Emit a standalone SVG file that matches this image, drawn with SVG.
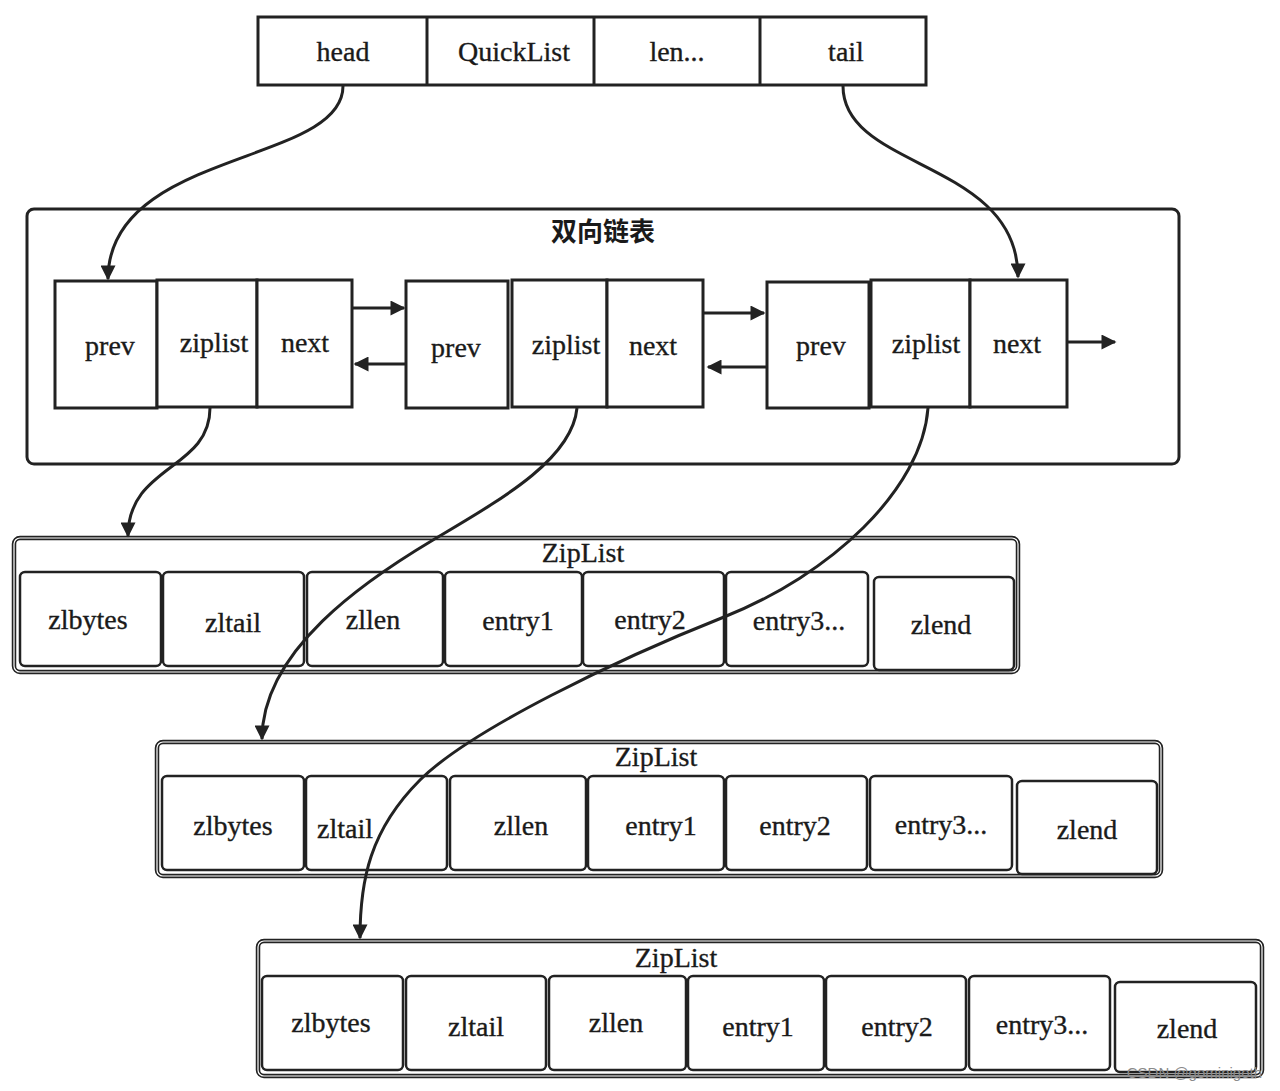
<svg xmlns="http://www.w3.org/2000/svg" width="1280" height="1091" viewBox="0 0 1280 1091">
<defs>
<style>
.t{font-family:"Liberation Serif","DejaVu Serif",serif;font-size:28px;fill:#1a1a1a;stroke:#1a1a1a;stroke-width:0.35;text-anchor:middle}
.box{fill:#fff;stroke:#222;stroke-width:3}
.cell{fill:#fff;stroke:#222;stroke-width:2.5}
.zo{fill:#fff;stroke:#222;stroke-width:4.5}
.zi{fill:none;stroke:#fff;stroke-width:1.2}
.ln{fill:none;stroke:#222;stroke-width:3}
.cap{font-family:"Noto Sans CJK SC","Noto Sans",sans-serif;font-size:26px;font-weight:bold;fill:#1a1a1a;text-anchor:middle}
.wm{font-family:"Liberation Sans",Arial,sans-serif;font-size:15px;fill:#8a8a8a;text-anchor:end}
</style>
<marker id="ah" viewBox="0 0 10 10" refX="9" refY="5" markerWidth="5.5" markerHeight="5" orient="auto" markerUnits="strokeWidth">
<path d="M0,0 L10,5 L0,10 z" fill="#222"/>
</marker>
</defs>
<rect width="1280" height="1091" fill="#fff"/>

<g id="quicklist">
<rect class="box" x="258" y="17" width="668" height="68"/>
<line class="ln" x1="427" y1="17" x2="427" y2="85"/>
<line class="ln" x1="594" y1="17" x2="594" y2="85"/>
<line class="ln" x1="760" y1="17" x2="760" y2="85"/>
<text class="t" x="343" y="61">head</text>
<text class="t" x="514" y="61">QuickList</text>
<text class="t" x="677" y="61">len...</text>
<text class="t" x="846" y="61">tail</text>
</g>

<g id="linkedlist">
<rect x="27" y="209" width="1152" height="255" rx="7" fill="#fff" stroke="#222" stroke-width="3"/>
<text class="cap" x="603" y="241">双向链表</text>
</g>

<g id="node1">
<rect class="box" x="55" y="281" width="102" height="127"/>
<rect class="box" x="157" y="280" width="100" height="127"/>
<rect class="box" x="257" y="280" width="95" height="127"/>
<text class="t" x="110" y="355">prev</text>
<text class="t" x="214" y="352">ziplist</text>
<text class="t" x="305" y="352">next</text>
</g>
<g id="node2">
<rect class="box" x="406" y="281" width="102" height="127"/>
<rect class="box" x="512" y="280" width="95" height="127"/>
<rect class="box" x="607" y="280" width="96" height="127"/>
<text class="t" x="456" y="357">prev</text>
<text class="t" x="566" y="354">ziplist</text>
<text class="t" x="653" y="355">next</text>
</g>
<g id="node3">
<rect class="box" x="767" y="282" width="102" height="126"/>
<rect class="box" x="871" y="280" width="99" height="127"/>
<rect class="box" x="970" y="280" width="97" height="127"/>
<text class="t" x="821" y="355">prev</text>
<text class="t" x="926" y="353">ziplist</text>
<text class="t" x="1017" y="353">next</text>
</g>

<g id="ziplist1">
<rect class="zo" x="14" y="538" width="1004" height="134" rx="6"/>
<rect class="zi" x="14" y="538" width="1004" height="134" rx="6"/>
<text class="t" x="583" y="562">ZipList</text>
<rect class="cell" x="20" y="572" width="141" height="94" rx="5"/>
<rect class="cell" x="163" y="572" width="141" height="94" rx="5"/>
<rect class="cell" x="307" y="572" width="136" height="94" rx="5"/>
<rect class="cell" x="445" y="572" width="137" height="94" rx="5"/>
<rect class="cell" x="583" y="572" width="141" height="94" rx="5"/>
<rect class="cell" x="726" y="572" width="142" height="94" rx="5"/>
<rect class="cell" x="874" y="577" width="140" height="93" rx="5"/>
<text class="t" x="88" y="629">zlbytes</text>
<text class="t" x="233" y="632">zltail</text>
<text class="t" x="373" y="629">zllen</text>
<text class="t" x="518" y="630">entry1</text>
<text class="t" x="650" y="629">entry2</text>
<text class="t" x="799" y="630">entry3...</text>
<text class="t" x="941" y="634">zlend</text>
</g>

<g id="ziplist2">
<rect class="zo" x="157" y="742" width="1004" height="134" rx="6"/>
<rect class="zi" x="157" y="742" width="1004" height="134" rx="6"/>
<text class="t" x="656" y="766">ZipList</text>
<rect class="cell" x="162" y="776" width="142" height="94" rx="5"/>
<rect class="cell" x="306" y="776" width="141" height="94" rx="5"/>
<rect class="cell" x="450" y="776" width="136" height="94" rx="5"/>
<rect class="cell" x="588" y="776" width="136" height="94" rx="5"/>
<rect class="cell" x="726" y="776" width="141" height="94" rx="5"/>
<rect class="cell" x="870" y="776" width="142" height="94" rx="5"/>
<rect class="cell" x="1017" y="781" width="140" height="93" rx="5"/>
<text class="t" x="233" y="835">zlbytes</text>
<text class="t" x="345" y="838">zltail</text>
<text class="t" x="521" y="835">zllen</text>
<text class="t" x="661" y="835">entry1</text>
<text class="t" x="795" y="835">entry2</text>
<text class="t" x="941" y="834">entry3...</text>
<text class="t" x="1087" y="839">zlend</text>
</g>

<g id="ziplist3">
<rect class="zo" x="258" y="941" width="1004" height="135" rx="6"/>
<rect class="zi" x="258" y="941" width="1004" height="135" rx="6"/>
<text class="t" x="676" y="967">ZipList</text>
<rect class="cell" x="262" y="976" width="141" height="94" rx="5"/>
<rect class="cell" x="406" y="976" width="140" height="94" rx="5"/>
<rect class="cell" x="549" y="976" width="137" height="94" rx="5"/>
<rect class="cell" x="688" y="976" width="136" height="94" rx="5"/>
<rect class="cell" x="826" y="976" width="140" height="94" rx="5"/>
<rect class="cell" x="969" y="976" width="141" height="94" rx="5"/>
<rect class="cell" x="1115" y="982" width="141" height="90" rx="5"/>
<text class="t" x="331" y="1032">zlbytes</text>
<text class="t" x="476" y="1036">zltail</text>
<text class="t" x="616" y="1032">zllen</text>
<text class="t" x="758" y="1036">entry1</text>
<text class="t" x="897" y="1036">entry2</text>
<text class="t" x="1042" y="1034">entry3...</text>
<text class="t" x="1187" y="1038">zlend</text>
</g>

<g id="connectors">
<path class="ln" marker-end="url(#ah)" d="M343,86 C343,165 108,150 108,279"/>
<path class="ln" marker-end="url(#ah)" d="M843,86 C843,170 1018,160 1018,277"/>
<path class="ln" marker-end="url(#ah)" d="M352,308 L404,308"/>
<path class="ln" marker-end="url(#ah)" d="M406,364 L355,364"/>
<path class="ln" marker-end="url(#ah)" d="M703,313 L764,313"/>
<path class="ln" marker-end="url(#ah)" d="M767,367 L708,367"/>
<path class="ln" marker-end="url(#ah)" d="M1067,342 L1115,342"/>
<path class="ln" marker-end="url(#ah)" d="M210,408 C210,470 128,465 128,536"/>
<path class="ln" marker-end="url(#ah)" d="M577,408 C572,460 500,500 433,540 C366,580 262,650 262,739"/>
<path class="ln" marker-end="url(#ah)" d="M928,408 C922,490 830,575 724,617 C618,659 470,730 420,780 C370,830 360,880 360,938"/>
</g>

<text class="wm" x="1262" y="1078">CSDN @gominigoth</text>
</svg>
